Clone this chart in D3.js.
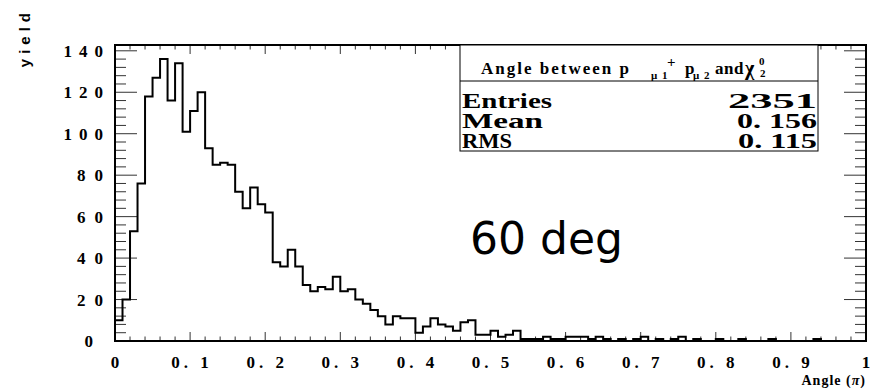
<!DOCTYPE html>
<html>
<head>
<meta charset="utf-8">
<script src="https://cdn.jsdelivr.net/npm/d3@7"></script>
<style>
  body { margin: 0; background: #fff; }
  svg { display: block; }
  .tick-lbl { font-family: "Liberation Serif", serif; font-weight: bold; font-size: 17px; }
  .stat { font-family: "Liberation Serif", serif; font-weight: bold; font-size: 21px; }
  .ttl { font-family: "Liberation Serif", serif; font-weight: bold; }
</style>
</head>
<body>
<svg id="chart" width="874" height="388"></svg>
<script>
// histogram: 100 bins from 0 to 1 (angle in units of pi)
var binEdgesLo = 0;
var binEdgesHi = 1;
var binCounts = [
  10, 20, 53, 76, 118, 127, 136, 116, 134, 101, 111, 120,
  93, 85, 86, 85, 72, 64, 74, 66, 62, 38, 36, 44, 36,
  27, 24, 26, 25, 31, 24, 25, 20, 18, 15, 12, 8, 12, 11,
  11, 4, 7, 11, 8, 7, 5, 9, 10, 3, 3, 5, 2, 3, 5, 1,
  1, 1, 2, 1, 1, 2, 2, 2, 1, 2, 1, 0, 1, 0, 1,
  2, 0, 1, 0, 1, 2, 0, 1, 0, 0, 1, 0, 0, 1, 0,
  0, 0, 1, 0, 0, 0, 0, 0, 1, 0, 0, 0, 0, 0, 0
];
var xTicks = [0, 0.1, 0.2, 0.3, 0.4, 0.5, 0.6, 0.7, 0.8, 0.9, 1];
var yTicks = [0, 20, 40, 60, 80, 100, 120, 140];
var statNames = ['Entries', 'Mean', 'RMS'];
var statValues = ['2351', '0. 156', '0. 115'];
var yMax = 142.8;

var svg = d3.select('#chart');
var pLeft = 115, pRight = 866, pTop = 45, pBottom = 341;

var x = d3.scaleLinear().domain([binEdgesLo, binEdgesHi]).range([pLeft, pRight]);
var y = d3.scaleLinear().domain([0, yMax]).range([pBottom, pTop]);
var nb = binCounts.length;
var bw = (binEdgesHi - binEdgesLo) / nb;

// ticks, all four sides
var g = svg.append('g').attr('stroke', '#333').attr('stroke-width', 1);
var xMinor = d3.range(0, 1.0001, 0.02);
var yMinor = d3.range(0, yMax, 4);
xMinor.forEach(function(t) {
  var major = Math.abs(t * 10 - Math.round(t * 10)) < 1e-6;
  var len = major ? 9 : 4.5;
  g.append('line').attr('x1', x(t)).attr('x2', x(t)).attr('y1', pBottom).attr('y2', pBottom - len);
  g.append('line').attr('x1', x(t)).attr('x2', x(t)).attr('y1', pTop).attr('y2', pTop + len);
});
yMinor.forEach(function(t) {
  var len = (t % 20 == 0) ? 22 : 11;
  g.append('line').attr('x1', pLeft).attr('x2', pLeft + len).attr('y1', y(t)).attr('y2', y(t));
  g.append('line').attr('x1', pRight).attr('x2', pRight - len).attr('y1', y(t)).attr('y2', y(t));
});

// histogram outline
var pts = [[x(0), y(0)]];
binCounts.forEach(function(v, i) {
  pts.push([x(i * bw), y(v)]);
  pts.push([x((i + 1) * bw), y(v)]);
});
pts.push([x(1), y(0)]);
svg.append('path')
  .attr('d', d3.line()(pts))
  .attr('fill', 'none')
  .attr('stroke', '#000')
  .attr('stroke-width', 2);

// frame
svg.append('rect')
  .attr('x', pLeft).attr('y', pTop)
  .attr('width', pRight - pLeft).attr('height', pBottom - pTop)
  .attr('fill', 'none').attr('stroke', '#000').attr('stroke-width', 2);

// tick labels
svg.selectAll('.xl').data(xTicks).enter().append('text')
  .attr('class', 'tick-lbl')
  .attr('x', d => x(d) + 2)
  .attr('y', pBottom + 27)
  .attr('text-anchor', 'middle')
  .style('letter-spacing', '4px')
  .text(d => d == 0 || d == 1 ? String(d) : d3.format('.1f')(d).replace('.', '. '));

svg.selectAll('.yl').data(yTicks).enter().append('text')
  .attr('class', 'tick-lbl')
  .attr('x', d => d == 0 ? 93 : (d >= 100 ? 110 : 112))
  .attr('y', d => y(d) + 6)
  .attr('text-anchor', 'end')
  .style('letter-spacing', d => d == 0 ? '0px' : (d >= 100 ? '7px' : '9px'))
  .text(d => String(d));

// axis titles
svg.append('text')
  .attr('transform', 'translate(30,8) rotate(-90)')
  .attr('text-anchor', 'end')
  .style('font-family', '"Liberation Sans", sans-serif')
  .style('font-weight', 'bold')
  .style('font-size', '15px')
  .style('letter-spacing', '5px')
  .text('yield');

var xt = svg.append('text')
  .attr('x', pRight)
  .attr('y', 385)
  .attr('text-anchor', 'end')
  .style('font-family', '"Liberation Serif", serif')
  .style('font-weight', 'bold')
  .style('font-size', '14px')
  .style('letter-spacing', '1px');
xt.append('tspan').text('Angle (');
xt.append('tspan').style('font-style', 'italic').text('π');
xt.append('tspan').text(')');

// stats box
var bx = 460, bxr = 818, by = 45, byb = 151;
svg.append('rect')
  .attr('x', bx).attr('y', by).attr('width', bxr - bx).attr('height', byb - by)
  .attr('fill', '#fff').attr('stroke', '#000').attr('stroke-width', 1);
svg.append('line')
  .attr('x1', bx).attr('x2', bxr).attr('y1', 81).attr('y2', 81)
  .attr('stroke', '#000').attr('stroke-width', 1);

// title: Angle between p_mu1^+ p_mu2 and chi_2^0
var tParts = [
  { t: 'Angle between p', x: 481, y: 74, s: 17, ls: 2 },
  { t: 'μ 1', x: 651, y: 79, s: 11, ls: 1 },
  { t: '+', x: 667, y: 67, s: 15, ls: 0 },
  { t: 'p', x: 685, y: 74, s: 17, ls: 0 },
  { t: 'μ 2', x: 693, y: 79, s: 11, ls: 1 },
  { t: 'and', x: 715, y: 74, s: 17, ls: 0.5 },
  { t: 'χ', x: 745, y: 75, s: 20, ls: 0 },
  { t: '0', x: 759, y: 65, s: 11, ls: 0 },
  { t: '2', x: 760, y: 77, s: 11, ls: 0 }
];
svg.selectAll('.ttl').data(tParts).enter().append('text')
  .attr('class', 'ttl')
  .attr('x', d => d.x).attr('y', d => d.y)
  .style('font-size', d => d.s + 'px')
  .style('letter-spacing', d => d.ls + 'px')
  .text(d => d.t);

var rowBase = [108, 128, 148];
var nameLen = [90, 81, 50];
var valLen = [89, 80, 79];
statNames.forEach(function(n, i) {
  svg.append('text').attr('class', 'stat')
    .attr('x', 462).attr('y', rowBase[i])
    .attr('textLength', nameLen[i]).attr('lengthAdjust', 'spacingAndGlyphs')
    .text(n);
  svg.append('text').attr('class', 'stat')
    .attr('x', 817 - valLen[i]).attr('y', rowBase[i])
    .attr('textLength', valLen[i]).attr('lengthAdjust', 'spacingAndGlyphs')
    .text(statValues[i]);
});

// annotation
svg.append('text')
  .attr('x', 470).attr('y', 254)
  .style('font-family', '"DejaVu Sans", sans-serif')
  .style('font-size', '44px')
  .text('60 deg');
</script>
</body>
</html>
